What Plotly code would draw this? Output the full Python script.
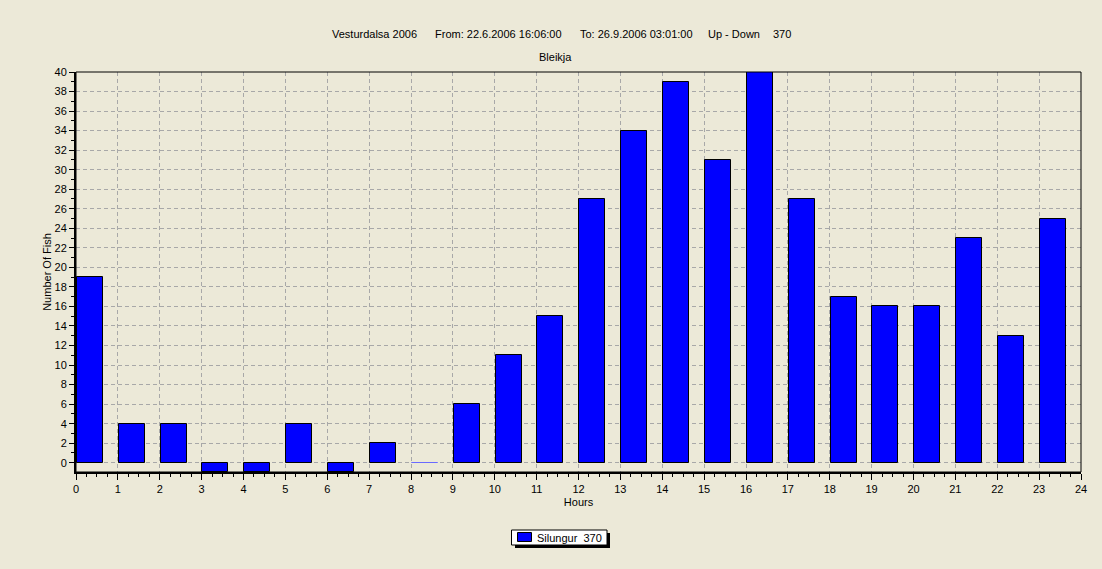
import plotly.graph_objects as go

hours = list(range(24))
fish = [19, 4, 4, -1, -1, 4, -1, 2, 0, 6, 11, 15, 27, 34, 39, 31, 40, 27, 17, 16, 16, 23, 13, 25]
series_name = "Silungur  370"
x_ticks = list(range(25))
y_ticks = list(range(0, 41, 2))

W, H = 1102, 569
L, R, T, B = 76, 1081, 72, 472
pw, ph = R - L, B - T

def px(x):
    return (x - L) / pw

def py(y):
    return (B - y) / ph

BG = "#ECE9D8"
FONT = "Liberation Sans"
BAR = "#0000FF"

line_colors = ["#6a6aff" if v == 0 else "#000000" for v in fish]

fig = go.Figure()
fig.add_trace(go.Bar(
    x=hours, y=fish, name=series_name,
    offset=0.02, width=0.62,
    marker=dict(color=BAR, line=dict(color=line_colors, width=1)),
    showlegend=False,
))

title_parts = [
    ("Vesturdalsa 2006", 330),
    ("From: 22.6.2006 16:06:00", 433),
    ("To: 26.9.2006 03:01:00", 578),
    ("Up - Down", 706),
    ("370", 771),
]
annotations = []
for txt, x0 in title_parts:
    annotations.append(dict(text=txt, x=px(x0), y=py(34), xref="paper", yref="paper",
                            xanchor="left", yanchor="middle", showarrow=False,
                            font=dict(family=FONT, size=11, color="#000")))
annotations.append(dict(text="Bleikja", x=px(555), y=py(57), xref="paper", yref="paper",
                        xanchor="center", yanchor="middle", showarrow=False,
                        font=dict(family=FONT, size=11, color="#000")))
# legend text
annotations.append(dict(text=series_name.replace("  ", "&nbsp; "), x=px(535), y=py(537.5),
                        xref="paper", yref="paper", xanchor="left", yanchor="middle",
                        showarrow=False, font=dict(family=FONT, size=11, color="#000")))

shapes = [
    dict(type="rect", xref="paper", yref="paper", x0=0, x1=1, y0=0, y1=1,
         line=dict(color="#000", width=1), layer="above"),
    # legend shadow
    dict(type="rect", xref="paper", yref="paper",
         x0=px(515), x1=px(610), y0=py(548), y1=py(533),
         fillcolor="#000", line=dict(width=0), layer="above"),
    # legend box
    dict(type="rect", xref="paper", yref="paper",
         x0=px(511.5), x1=px(607), y0=py(545), y1=py(530),
         fillcolor="#FFFFFF", line=dict(color="#000", width=1), layer="above"),
    # legend swatch
    dict(type="rect", xref="paper", yref="paper",
         x0=px(517.5), x1=px(531.5), y0=py(541.5), y1=py(532.5),
         fillcolor=BAR, line=dict(color="#000", width=1), layer="above"),
]

fig.update_layout(
    width=W, height=H,
    paper_bgcolor=BG, plot_bgcolor=BG,
    margin=dict(l=L, r=W - R, t=T, b=H - B, pad=0),
    font=dict(family=FONT, size=11, color="#000"),
    annotations=annotations, shapes=shapes,
    showlegend=False,
    bargap=0,
)
fig.update_xaxes(
    range=[0, 24], tickvals=x_ticks, ticktext=[str(v) for v in x_ticks],
    showgrid=True, gridcolor="#A8A8A8", griddash="4px,3px", gridwidth=1,
    showline=True, linecolor="#000", linewidth=2,
    ticks="outside", ticklen=6, tickcolor="#000", tickwidth=1,
    minor=dict(dtick=0.25, ticks="outside", ticklen=3, tickcolor="#000", showgrid=False),
    title=dict(text="Hours", font=dict(family=FONT, size=11), standoff=4),
    zeroline=False, fixedrange=True,
)
fig.update_yaxes(
    range=[-0.95, 40], tickvals=y_ticks, ticktext=[str(v) for v in y_ticks],
    showgrid=True, gridcolor="#A8A8A8", griddash="4px,3px", gridwidth=1,
    showline=True, linecolor="#000", linewidth=2,
    ticks="outside", ticklen=5, tickcolor="#000", tickwidth=1,
    minor=dict(dtick=1, ticks="outside", ticklen=3, tickcolor="#000", showgrid=False),
    title=dict(text="Number Of Fish", font=dict(family=FONT, size=11), standoff=1),
    zeroline=False, fixedrange=True,
)

fig.write_html("out.html",
               config={"displayModeBar": False},
               post_script="document.body.style.margin='0';document.body.style.overflow='hidden';document.body.style.background='" + BG + "';")
